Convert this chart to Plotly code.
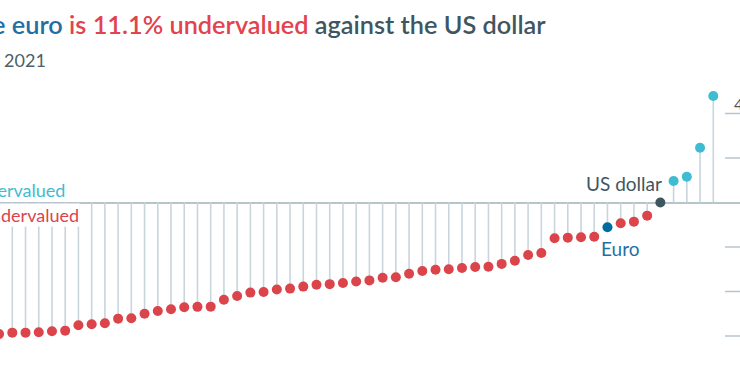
import plotly.graph_objects as go

# ---- data ----
categories = [f"c{i}" for i in range(55)]
categories[46] = "Euro area"
categories[50] = "United States"
values = [-59.1, -58.5, -58.5, -58.3, -57.9, -57.6, -55.2, -54.7, -54.3, -52.2,
          -52.0, -50.0, -48.8, -48.0, -47.1, -46.9, -46.8, -43.7, -42.0, -40.5,
          -40.2, -39.1, -38.7, -37.8, -37.0, -36.7, -36.2, -35.5, -35.0, -33.8,
          -33.6, -32.0, -30.8, -30.2, -30.0, -29.4, -29.0, -28.9, -27.6, -26.2,
          -23.6, -22.7, -16.1, -15.8, -15.6, -15.4, -11.1, -9.3, -8.6, -5.9,
          0.0, 9.7, 11.6, 24.6, 47.9]
grid_values = [40, 20, -20, -40, -60]
tick_label = "40"

RED = "#DB444B"
CYAN = "#3EBCD2"
EURO = "#006BA2"
USD = "#3F5661"
STEM = "#C9D5DD"
GRID = "#B7C4CC"

colors = []
for c, v in zip(categories, values):
    if c == "Euro area":
        colors.append(EURO)
    elif c == "United States":
        colors.append(USD)
    elif v > 0:
        colors.append(CYAN)
    else:
        colors.append(RED)

# stems
sx, sy = [], []
for c, v in zip(categories, values):
    sx += [c, c, None]
    sy += [0, v, None]

fig = go.Figure()
fig.add_trace(go.Scatter(x=sx, y=sy, mode="lines",
                         line=dict(color=STEM, width=1.6),
                         hoverinfo="skip", showlegend=False))
fig.add_trace(go.Scatter(x=categories, y=values, mode="markers",
                         marker=dict(color=colors, size=10, line=dict(width=0)),
                         showlegend=False))

W, H = 740, 389
px_per_cat = 13.226
x0_px = 12.3  # pixel of categories[1]
a = 1 - x0_px / px_per_cat
b = a + W / px_per_cat
zero_px = 202.5
px_per_unit = 44.5 / 20
ytop = zero_px / px_per_unit
ybot = -(H - zero_px) / px_per_unit

shapes = []
for g in grid_values:
    shapes.append(dict(type="line", xref="paper", yref="y",
                       x0=725 / W, x1=1.02, y0=g, y1=g,
                       line=dict(color=GRID, width=1.5), layer="below"))

FONT = "Lato"
annotations = [
    dict(xref="paper", yref="paper", x=548 / W, y=1 - 41 / H,
         xanchor="right", yanchor="bottom", showarrow=False,
         text=("<span style='color:#1F6FA5'>The euro</span> "
               "<span style='color:#E3434E'>is 11.1% undervalued</span> "
               "<span style='color:#3F5661'>against the US dollar</span>"),
         font=dict(family=FONT, size=25.3, color=USD, weight=600)),
    dict(xref="paper", yref="paper", x=47.5 / W, y=1 - 73 / H,
         xanchor="right", yanchor="bottom", showarrow=False,
         text="July 2021", font=dict(family=FONT, size=18, color="#4D5F69")),
    dict(xref="paper", yref="paper", x=66.5 / W, y=1 - 189.5 / H,
         xanchor="right", yanchor="middle", showarrow=False,
         text="Overvalued", font=dict(family=FONT, size=18, color=CYAN)),
    dict(xref="paper", yref="paper", x=80 / W, y=1 - 215 / H,
         xanchor="right", yanchor="middle", showarrow=False,
         bgcolor="white", borderpad=0,
         text="Undervalued", font=dict(family=FONT, size=18, color=RED)),
    dict(xref="paper", yref="paper", x=663.5 / W, y=1 - 183 / H,
         xanchor="right", yanchor="middle", showarrow=False,
         text="US dollar", font=dict(family=FONT, size=19, color=USD)),
    dict(xref="paper", yref="paper", x=599 / W, y=1 - 248 / H,
         xanchor="left", yanchor="middle", showarrow=False,
         text="Euro", font=dict(family=FONT, size=19, color="#1F6FA5")),
    dict(xref="paper", yref="paper", x=732 / W, y=1 - 103 / H,
         xanchor="left", yanchor="middle", showarrow=False,
         text=tick_label, font=dict(family=FONT, size=16, color="#555555")),
]

fig.update_layout(
    width=W, height=H,
    margin=dict(l=0, r=0, t=0, b=0),
    paper_bgcolor="white", plot_bgcolor="white",
    xaxis=dict(type="category", categoryorder="array", categoryarray=categories,
               range=[a, b], showgrid=False, showticklabels=False,
               zeroline=False, showline=False, ticks=""),
    yaxis=dict(range=[ybot, ytop], showgrid=False, showticklabels=False,
               zeroline=True, zerolinecolor=GRID, zerolinewidth=1.5,
               showline=False, ticks=""),
    shapes=shapes,
    annotations=annotations,
)

fig.write_html("out.html",
               config={"displayModeBar": False},
               post_script="document.body.style.margin='0';document.body.style.padding='0';")
